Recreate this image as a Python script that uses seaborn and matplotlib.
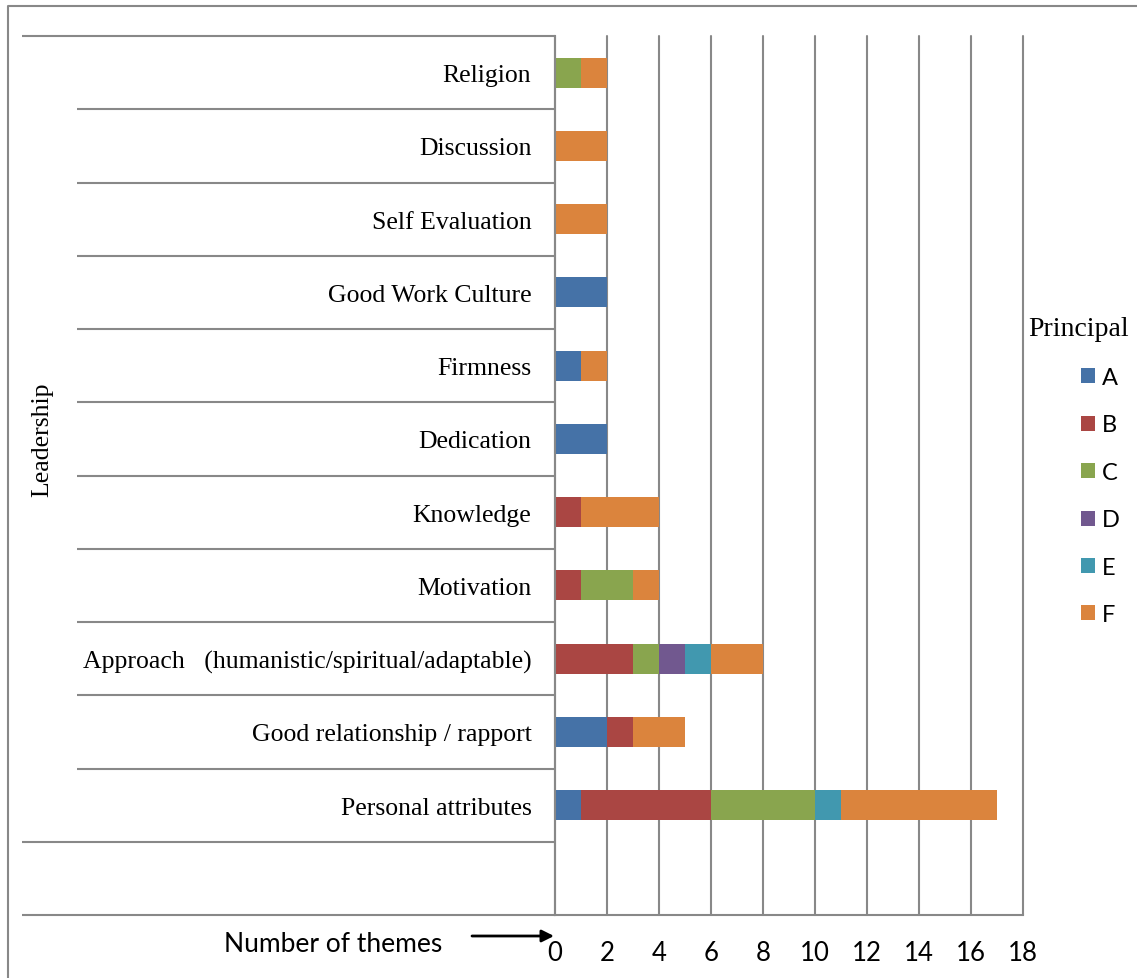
import numpy as np
import pandas as pd
import matplotlib
matplotlib.use("Agg")
import matplotlib.pyplot as plt
import matplotlib.transforms as mtransforms
from matplotlib.patches import Patch
from matplotlib.lines import Line2D
import seaborn as sns

# ---------------- data ----------------
categories = ["Religion", "Discussion", "Self Evaluation", "Good Work Culture",
              "Firmness", "Dedication", "Knowledge", "Motivation",
              "Approach   (humanistic/spiritual/adaptable)",
              "Good relationship / rapport", "Personal attributes", " "]
principals = ["A", "B", "C", "D", "E", "F"]
A = [0, 0, 0, 2, 1, 2, 0, 0, 0, 2, 1, 0]
B = [0, 0, 0, 0, 0, 0, 1, 1, 3, 1, 5, 0]
C = [1, 0, 0, 0, 0, 0, 0, 2, 1, 0, 4, 0]
D = [0, 0, 0, 0, 0, 0, 0, 0, 1, 0, 0, 0]
E = [0, 0, 0, 0, 0, 0, 0, 0, 1, 0, 1, 0]
F = [1, 2, 2, 0, 1, 0, 3, 1, 2, 2, 6, 0]
x_ticks = [0, 2, 4, 6, 8, 10, 12, 14, 16, 18]
group_label = "Leadership"
x_label = "Number of themes"
legend_title = "Principal"
colors = ["#4572A7", "#AA4643", "#89A54E", "#71588F", "#4198AF", "#DB843D"]

# ---------------- setup ----------------
sns.set_style("white")
plt.rcParams["font.family"] = ["Liberation Serif", "DejaVu Serif"]
plt.rcParams["text.color"] = "black"
plt.rcParams["xtick.labelcolor"] = "black"
plt.rcParams["ytick.labelcolor"] = "black"

W, H = 1137, 979
GRAY = "#888888"
fig = plt.figure(figsize=(W / 100, H / 100), dpi=100)
ax = fig.add_axes([555 / W, 1 - 916 / H, 468 / W, 879 / H])

df = pd.DataFrame({"category": categories, "A": A, "B": B, "C": C,
                   "D": D, "E": E, "F": F})
cum = df[principals].cumsum(axis=1)
cum["category"] = df["category"]

# stacked bars: draw cumulative totals from outermost layer inward
for p, col in reversed(list(zip(principals, colors))):
    sns.barplot(data=cum, x=p, y="category", order=categories, orient="h",
                color=col, saturation=1, width=0.41, linewidth=0,
                edgecolor="none", ax=ax)

ax.set_xlim(0, 18)
ax.set_ylim(11.5, -0.5)
ax.set_xlabel("")
ax.set_ylabel("")
ax.set_axisbelow(True)
ax.xaxis.grid(True, color=GRAY, lw=1.5)
ax.yaxis.grid(False)
for gl in ax.get_xgridlines():
    gl.set_clip_on(False)
for s in ["top", "right"]:
    ax.spines[s].set_visible(False)
for s in ["left", "bottom"]:
    ax.spines[s].set_color(GRAY)
    ax.spines[s].set_linewidth(1.5)

ax.set_xticks(x_ticks)
ax.set_xticklabels([str(t) for t in x_ticks], family="Lato", fontsize=18.5,
                   color="black")
ax.tick_params(axis="x", length=10, width=1.5, color=GRAY, pad=8)
ax.set_yticks(range(len(categories)))
ax.set_yticklabels(categories, family="Liberation Serif", fontsize=18.5,
                   color="black")
ax.tick_params(axis="y", length=0, pad=17)

# category separator lines (multi-level axis style)
trans = mtransforms.blended_transform_factory(ax.transAxes, ax.transData)
for b in np.arange(-0.5, len(categories), 1.0):
    x0 = -1.139 if b in (-0.5, 10.5, 11.5) else -1.0214
    ax.plot([x0, 0], [b, b], transform=trans, color=GRAY, lw=1.5,
            clip_on=False, solid_capstyle="butt")

fig.text(42 / W, 1 - 440 / H, group_label, rotation=90, ha="center",
         va="center", family="Liberation Serif", fontsize=18.5, color="black")

# x label with arrow
fig.text(224 / W, 1 - 945 / H, x_label, ha="left", va="center",
         family="Lato", fontsize=19, color="black")
ax.annotate("", xy=(554 / W, 1 - 937 / H), xytext=(472 / W, 1 - 937 / H),
            xycoords="figure fraction", textcoords="figure fraction",
            arrowprops=dict(arrowstyle="-|>", color="black", lw=2,
                            mutation_scale=18, shrinkA=0, shrinkB=0))

# outer frame
fig.add_artist(Line2D([8 / W, 8 / W, 1], [0, 1 - 7 / H, 1 - 7 / H],
                      transform=fig.transFigure, color=GRAY, lw=1.5))

# legend
handles = [Patch(facecolor=c, edgecolor="none", label=p)
           for p, c in zip(principals, colors)]
fig.legend(handles=handles, loc="upper left",
           bbox_to_anchor=(1081 / W, 1 - 368 / H), bbox_transform=fig.transFigure,
           frameon=False, prop={"family": "Lato", "size": 17},
           labelcolor="black",
           handlelength=0.6, handleheight=0.6, handletextpad=0.3,
           labelspacing=1.12, borderpad=0, borderaxespad=0)
fig.text(1028 / W, 1 - 330 / H, legend_title, ha="left", va="center",
         family="Liberation Serif", fontsize=20, color="black")

fig.savefig("out.png", dpi=100)
